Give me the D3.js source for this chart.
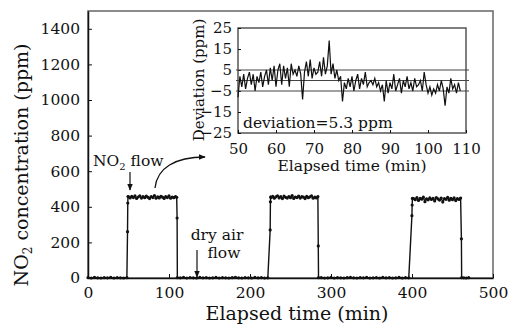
<!DOCTYPE html>
<html>
<head>
<meta charset="utf-8">
<script src="https://cdn.jsdelivr.net/npm/d3@7"></script>
<style>
    body { margin: 0; background: #fff; }
    text { font-family: "DejaVu Serif", serif; fill: #111; }
</style>
</head>
<body>
<svg id="chart" width="512" height="326"></svg>
<script>
// main trace: NO2 concentration (ppm) vs elapsed time (min)
var mainTime = [
    0, 4, 8, 12, 16, 20, 24, 28, 32, 36, 40, 44, 48,
    48.8, 49.1, 49.4,
    50, 52, 54, 56, 58, 60, 62, 64, 66, 68, 70, 72, 74, 76, 78, 80, 82, 84, 86, 88, 90, 92, 94, 96, 98, 100, 102, 104, 106, 108, 109.5,
    110, 110.3,
    114, 118, 122, 126, 130, 134, 138, 142, 146, 150, 154, 158, 162, 166, 170, 174, 178, 182, 186, 190, 194, 198, 202, 206, 210, 214, 218, 222,
    224.9, 225.2, 225.5,
    226, 228, 230, 232, 234, 236, 238, 240, 242, 244, 246, 248, 250, 252, 254, 256, 258, 260, 262, 264, 266, 268, 270, 272, 274, 276, 278, 280, 282, 283.8,
    284.3, 284.6,
    288, 292, 296, 300, 304, 308, 312, 316, 320, 324, 328, 332, 336, 340, 344, 348, 352, 356, 360, 364, 368, 372, 376, 380, 384, 388, 392, 396,
    399.9, 400.2, 400.5,
    402, 404, 406, 408, 410, 412, 414, 416, 418, 420, 422, 424, 426, 428, 430, 432, 434, 436, 438, 440, 442, 444, 446, 448, 450, 452, 454, 456, 458, 460,
    461, 461.3,
    464, 467, 470
];
var mainConc = [
    2, 0, 3, 1, 0, 2, 1, 3, 0, 2, 1, 0, 2,
    260, 421, 458,
    456, 450, 459, 452, 461, 447, 455, 462, 449, 457, 451, 460, 453, 446, 458, 452, 463, 448, 456, 450, 459, 454, 447, 457, 452, 461, 448, 455, 451, 458, 453,
    337, 2,
    1, 3, 0, 2, 1, 0, 3, 1, 2, 0, 1, 3, 0, 2, 1, 0, 2, 3, 1, 0, 2, 1, 0, 3, 1, 2, 0, 1,
    270, 428, 455,
    452, 459, 448, 456, 462, 450, 457, 446, 460, 453, 449, 458, 451, 463, 447, 455, 452, 460, 449, 457, 454, 446, 459, 451, 456, 461, 448, 455, 450, 457,
    180, 2,
    2, 0, 1, 3, 0, 2, 1, 0, 2, 3, 1, 0, 2, 1, 3, 0, 1, 2, 0, 3, 1, 2, 0, 1, 3, 0, 2, 1,
    350, 410, 447,
    446, 440, 451, 436, 448, 443, 454, 429, 445, 439, 450, 441, 447, 433, 452, 444, 438, 449, 427, 446, 442, 453, 437, 448, 440, 450, 435, 446, 441, 449,
    220, 2,
    1, 0, 2
];
var xTicks = [0, 100, 200, 300, 400, 500];
var yTicks = [0, 200, 400, 600, 800, 1000, 1200, 1400];

// inset: deviation (ppm) sampled every 0.5 min from 50 min
var insetStart = 50, insetStep = 0.5;
var deviation = [
    -8, 2, -3, 3, -4, 1, 4, -2, 3, -5, 2, -1, 4, -3, 2, 5, -2, 6, 0, 7,
    -3, 5, 8, -2, 7, 1, 6, -3, 8, 3, 5, 2, 7, 3, -9, 4, 9, 2, 10, 1,
    6, 3, 4, 9, 2, 11, 3, 7, 19, 3, 8, 1, 5, 0, 2, -10, -1, -4, 1, -3,
    2, -5, 0, 3, -4, 1, -2, 4, -3, -1, 0, -2, 1, -3, -1, -5, -2, -10, 0, -6,
    -1, -4, 3, -5, -2, 1, -6, 0, -3, 2, -4, -1, -5, 1, -3, -2, 0, -5, 4, -2,
    -6, -3, -7, -4, -6, -2, -5, 0, -4, -12, -3, -6, 1, -4, -2, -6, -1, -5
];
var insetXTicks = [50, 60, 70, 80, 90, 100, 110];
var insetYTicks = [25, 15, 5, -5, -15, -25];
var refLines = [5, 0, -5];

var svg = d3.select("#chart");

// arrow head
svg.append("defs").append("marker")
    .attr("id", "head")
    .attr("viewBox", "0 0 10 10")
    .attr("refX", 9).attr("refY", 5)
    .attr("markerWidth", 7).attr("markerHeight", 7)
    .attr("markerUnits", "userSpaceOnUse")
    .attr("orient", "auto")
    .append("path").attr("d", "M0,1 L10,5 L0,9 Z").attr("fill", "#111");

// ---- main plot ----
var x = d3.scaleLinear().domain([0, 500]).range([88, 493]);
var y = d3.scaleLinear().domain([0, 1500]).range([278, 11]);

svg.append("rect")
    .attr("x", 88).attr("y", 11).attr("width", 405).attr("height", 267)
    .attr("fill", "none").attr("stroke", "#666").attr("stroke-width", 1.5);

var gx = svg.append("g").attr("transform", "translate(0,278)")
    .call(d3.axisBottom(x).tickValues(xTicks).tickSizeInner(-4).tickSizeOuter(0).tickPadding(9));
var gy = svg.append("g").attr("transform", "translate(88,0)")
    .call(d3.axisLeft(y).tickValues(yTicks).tickFormat(d3.format("d"))
        .tickSizeInner(-4).tickSizeOuter(0).tickPadding(8));
[gx, gy].forEach(function (g) {
    g.select(".domain").attr("stroke", "#111").attr("stroke-width", 1.5);
    g.selectAll(".tick line").attr("stroke", "#111");
    g.selectAll(".tick text").attr("font-size", 15.5).attr("fill", "#111").attr("font-family", "DejaVu Serif");
});

var mainData = mainTime.map(function (t, i) { return {t: t, v: mainConc[i]}; });
var line = d3.line().x(function (d) { return x(d.t); }).y(function (d) { return y(d.v); });
svg.append("path").datum(mainData)
    .attr("d", line).attr("fill", "none").attr("stroke", "#111").attr("stroke-width", 1.4);
svg.append("g").selectAll("circle").data(mainData).enter().append("circle")
    .attr("cx", function (d) { return x(d.t); })
    .attr("cy", function (d) { return y(d.v); })
    .attr("r", 1.6).attr("fill", "#111");

// axis titles
svg.append("text").attr("x", 297).attr("y", 320).attr("text-anchor", "middle")
    .attr("font-size", 19).text("Elapsed time (min)");
var yt = svg.append("text").attr("transform", "translate(28,165) rotate(-90)")
    .attr("text-anchor", "middle").attr("font-size", 19);
yt.append("tspan").text("NO");
yt.append("tspan").attr("font-size", 12).attr("dy", 4).text("2");
yt.append("tspan").attr("dy", -4).text(" concentration (ppm)");

// annotations
var no2 = svg.append("text").attr("x", 93).attr("y", 166).attr("font-size", 15.5);
no2.append("tspan").text("NO");
no2.append("tspan").attr("font-size", 10).attr("dy", 4).text("2");
no2.append("tspan").attr("dy", -4).text(" flow");
svg.append("line").attr("x1", 130).attr("y1", 172).attr("x2", 130).attr("y2", 190)
    .attr("stroke", "#111").attr("stroke-width", 1.2).attr("marker-end", "url(#head)");
svg.append("path").attr("d", "M155,188 C157,168 175,157 205,157")
    .attr("fill", "none").attr("stroke", "#111").attr("stroke-width", 1.3).attr("marker-end", "url(#head)");
svg.append("text").attr("x", 217).attr("y", 240).attr("text-anchor", "middle")
    .attr("font-size", 15.5).text("dry air");
svg.append("text").attr("x", 224).attr("y", 258).attr("text-anchor", "middle")
    .attr("font-size", 15.5).text("flow");
svg.append("line").attr("x1", 197).attr("y1", 250).attr("x2", 197).attr("y2", 277)
    .attr("stroke", "#111").attr("stroke-width", 1.2).attr("marker-end", "url(#head)");

// ---- inset ----
var ix = d3.scaleLinear().domain([50, 110]).range([238, 466]);
var iy = d3.scaleLinear().domain([-25, 25]).range([133, 28]);

svg.append("rect")
    .attr("x", 238).attr("y", 28).attr("width", 228).attr("height", 105)
    .attr("fill", "#fff").attr("stroke", "#555").attr("stroke-width", 1.5);

var igx = svg.append("g").attr("transform", "translate(0,133)")
    .call(d3.axisBottom(ix).tickValues(insetXTicks).tickSizeInner(-3).tickSizeOuter(0).tickPadding(10));
var igy = svg.append("g").attr("transform", "translate(238,0)")
    .call(d3.axisLeft(iy).tickValues(insetYTicks).tickSizeInner(-3).tickSizeOuter(0).tickPadding(6)
        .tickFormat(function (d) { return d < 0 ? "\u2212" + (-d) : String(d); }));
[igx, igy].forEach(function (g) {
    g.select(".domain").remove();
    g.selectAll(".tick line").attr("stroke", "#111");
    g.selectAll(".tick text").attr("font-size", 15).attr("fill", "#111").attr("font-family", "DejaVu Serif");
});

svg.append("g").selectAll("line").data(refLines).enter().append("line")
    .attr("x1", 236).attr("x2", 469)
    .attr("y1", function (d) { return iy(d); }).attr("y2", function (d) { return iy(d); })
    .attr("stroke", "#444").attr("stroke-width", 1.2);

var devData = deviation.map(function (v, i) { return {t: insetStart + i * insetStep, v: v}; });
svg.append("path").datum(devData)
    .attr("d", d3.line().x(function (d) { return ix(d.t); }).y(function (d) { return iy(d.v); }))
    .attr("fill", "none").attr("stroke", "#111").attr("stroke-width", 1.2);

svg.append("text").attr("x", 243).attr("y", 128).attr("font-size", 15.5).text("deviation=5.3 ppm");
svg.append("text").attr("x", 352).attr("y", 171).attr("text-anchor", "middle")
    .attr("font-size", 15.5).text("Elapsed time (min)");
svg.append("text").attr("transform", "translate(204,80) rotate(-90)")
    .attr("text-anchor", "middle").attr("font-size", 15).text("Deviation (ppm)");
</script>
</body>
</html>
